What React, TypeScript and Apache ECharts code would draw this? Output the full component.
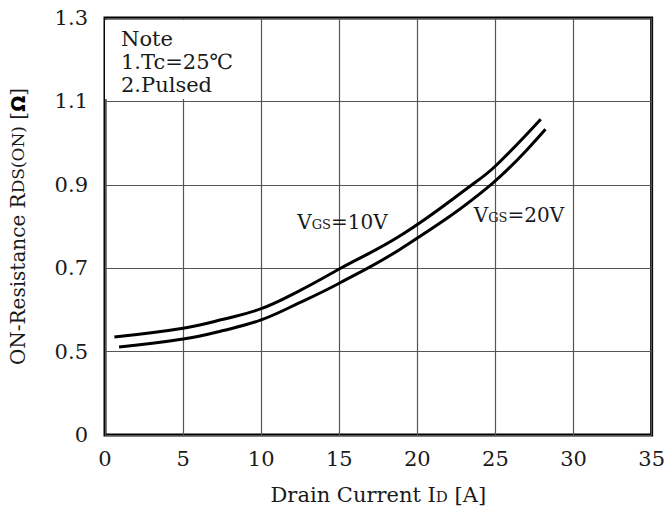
import React, { useEffect, useRef } from "react";
import * as echarts from "echarts";

const id10 = [0.6, 5, 7.5, 10, 12.5, 15, 19, 23.5, 25, 27.9];
const r10 = [0.535, 0.556, 0.577, 0.603, 0.647, 0.698, 0.78, 0.9, 0.945, 1.057];
const id20 = [0.9, 5, 7.5, 10, 12.5, 15, 19, 24.7, 28.2];
const r20 = [0.511, 0.53, 0.55, 0.576, 0.618, 0.664, 0.748, 0.9, 1.033];
const xTicks = [0, 5, 10, 15, 20, 25, 30, 35];
const yTickLabels: Record<string, string> = { "0.3": "0", "0.5": "0.5", "0.7": "0.7", "0.9": "0.9", "1.1": "1.1", "1.3": "1.3" };
const noteLines = ["Note", "1.Tc=25\u2103", "2.Pulsed"];

const FONT = "DejaVu Serif";
const TXT = "#1a1a1a";

export default function App() {
  const ref = useRef<HTMLDivElement>(null);
  useEffect(() => {
    document.body.style.margin = "0";
    const chart = echarts.init(ref.current!, null, { renderer: "svg" });
    const mk = (xs: number[], ys: number[]) => xs.map((x, i) => [x, ys[i]]);
    const sub = { fontFamily: FONT, fontSize: 13, color: TXT, padding: [5, 0, 0, 0] };
    chart.setOption({
      animation: false,
      backgroundColor: "#fff",
      grid: {
        left: 103,
        top: 18,
        right: 16,
        bottom: 76,
        show: true,
        borderColor: "#000",
        borderWidth: 3,
        backgroundColor: "transparent",
      },
      xAxis: {
        type: "value",
        min: xTicks[0],
        max: xTicks[xTicks.length - 1],
        interval: 5,
        axisLine: { show: false },
        axisTick: { show: false },
        splitLine: { show: true, lineStyle: { color: "#555", width: 1.2 } },
        axisLabel: { fontFamily: FONT, fontSize: 21, color: TXT, margin: 13 },
        name: "Drain Current I{s|D} [A]",
        nameLocation: "middle",
        nameGap: 49,
        nameTextStyle: {
          fontFamily: FONT,
          fontSize: 21,
          color: TXT,
          rich: { s: { fontFamily: FONT, fontSize: 15, color: TXT, padding: [4, 0, 0, 0] } },
        },
      },
      yAxis: {
        type: "value",
        min: 0.3,
        max: 1.3,
        interval: 0.2,
        axisLine: { show: false },
        axisTick: { show: false },
        splitLine: { show: true, lineStyle: { color: "#555", width: 1.2 } },
        axisLabel: {
          fontFamily: FONT,
          fontSize: 21,
          color: TXT,
          margin: 17,
          formatter: (v: number) => yTickLabels[v.toFixed(1)] ?? v.toFixed(1),
        },
        name: "ON-Resistance R{s|DS(ON)} [{o|\u03A9}]",
        nameLocation: "middle",
        nameRotate: 90,
        nameGap: 77,
        nameTextStyle: {
          fontFamily: FONT,
          fontSize: 20,
          color: TXT,
          rich: {
            s: { fontFamily: FONT, fontSize: 17, color: TXT },
            o: { fontFamily: "DejaVu Sans", fontSize: 19, fontWeight: "bold", color: "#000" },
          },
        },
      },
      graphic: [
        {
          type: "rect",
          z: 50,
          shape: { x: 105, y: 20, width: 152, height: 79 },
          style: { fill: "#fff" },
        },
        ...noteLines.map((t, i) => ({
          type: "text",
          z: 51,
          left: 121,
          top: 28 + i * 23,
          style: { text: t, fontFamily: FONT, fontSize: 21, fill: TXT },
        })),
      ],
      series: [
        {
          type: "line",
          name: "VGS=10V",
          data: mk(id10, r10),
          smooth: 0.4,
          symbol: "none",
          lineStyle: { color: "#000", width: 3 },
          markPoint: {
            symbol: "circle",
            symbolSize: 0,
            data: [{ coord: [15.2, 0.81] }],
            label: {
              show: true,
              position: "inside",
              formatter: "{v|V}{s|GS}{v|=10V}",
              rich: { v: { fontFamily: FONT, fontSize: 20, color: TXT }, s: sub },
            },
          },
        },
        {
          type: "line",
          name: "VGS=20V",
          data: mk(id20, r20),
          smooth: 0.4,
          symbol: "none",
          lineStyle: { color: "#000", width: 3 },
          markPoint: {
            symbol: "circle",
            symbolSize: 0,
            data: [{ coord: [26.5, 0.827] }],
            label: {
              show: true,
              position: "inside",
              formatter: "{v|V}{s|GS}{v|=20V}",
              rich: { v: { fontFamily: FONT, fontSize: 20, color: TXT }, s: sub },
            },
          },
        },
      ],
    });
    return () => chart.dispose();
  }, []);
  return <div ref={ref} style={{ width: 668, height: 511 }} />;
}
